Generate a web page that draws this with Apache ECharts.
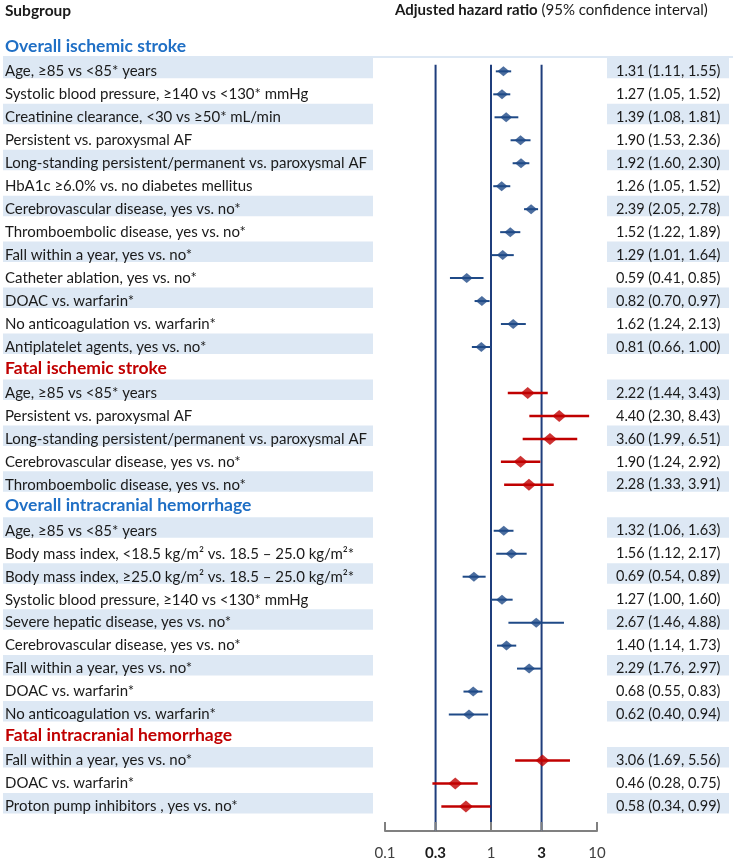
<!DOCTYPE html>
<html><head><meta charset="utf-8">
<script src="https://cdn.jsdelivr.net/npm/echarts@6/dist/echarts.min.js"></script>
<style>html,body{margin:0;padding:0;background:#fff}#c{width:733px;height:865px}</style>
</head><body><div id="c"></div>
<script>
const groupNames = ['Overall ischemic stroke','Fatal ischemic stroke','Overall intracranial hemorrhage','Fatal intracranial hemorrhage'];
const groupFatal = [false, true, false, true];
const groupSizes = [13, 5, 9, 3];
const subgroups = [
 'Age, ≥85 vs <85* years',
 'Systolic blood pressure, ≥140 vs <130* mmHg',
 'Creatinine clearance, <30 vs ≥50* mL/min',
 'Persistent vs. paroxysmal AF',
 'Long-standing persistent/permanent vs. paroxysmal AF',
 'HbA1c ≥6.0% vs. no diabetes mellitus',
 'Cerebrovascular disease, yes vs. no*',
 'Thromboembolic disease, yes vs. no*',
 'Fall within a year, yes vs. no*',
 'Catheter ablation, yes vs. no*',
 'DOAC vs. warfarin*',
 'No anticoagulation vs. warfarin*',
 'Antiplatelet agents, yes vs. no*',
 'Age, ≥85 vs <85* years',
 'Persistent vs. paroxysmal AF',
 'Long-standing persistent/permanent vs. paroxysmal AF',
 'Cerebrovascular disease, yes vs. no*',
 'Thromboembolic disease, yes vs. no*',
 'Age, ≥85 vs <85* years',
 'Body mass index, <18.5 kg/m² vs. 18.5 – 25.0 kg/m²*',
 'Body mass index, ≥25.0 kg/m² vs. 18.5 – 25.0 kg/m²*',
 'Systolic blood pressure, ≥140 vs <130* mmHg',
 'Severe hepatic disease, yes vs. no*',
 'Cerebrovascular disease, yes vs. no*',
 'Fall within a year, yes vs. no*',
 'DOAC vs. warfarin*',
 'No anticoagulation vs. warfarin*',
 'Fall within a year, yes vs. no*',
 'DOAC vs. warfarin*',
 'Proton pump inhibitors , yes vs. no*'
];
const hr    = [1.31,1.27,1.39,1.90,1.92,1.26,2.39,1.52,1.29,0.59,0.82,1.62,0.81, 2.22,4.40,3.60,1.90,2.28, 1.32,1.56,0.69,1.27,2.67,1.40,2.29,0.68,0.62, 3.06,0.46,0.58];
const lower = [1.11,1.05,1.08,1.53,1.60,1.05,2.05,1.22,1.01,0.41,0.70,1.24,0.66, 1.44,2.30,1.99,1.24,1.33, 1.06,1.12,0.54,1.00,1.46,1.14,1.76,0.55,0.40, 1.69,0.28,0.34];
const upper = [1.55,1.52,1.81,2.36,2.30,1.52,2.78,1.89,1.64,0.85,0.97,2.13,1.00, 3.43,8.43,6.51,2.92,3.91, 1.63,2.17,0.89,1.60,4.88,1.73,2.97,0.83,0.94, 5.56,0.75,0.99];
const tickValues = [0.1, 0.3, 1, 3, 10];
const tickLabels = ['0.1','0.3','1','3','10'];
const tickBold = [false, true, false, true, false];
const refLines = [0.3, 1, 3];

const BLUE_HDR = '#1f6fc5', RED = '#c00000', NAVY = '#1f3e7c', MARK = '#1f4a87', BAND = '#dde8f4';
const FONT = 'Lato, "Open Sans", sans-serif';
const Y_MIN = -0.8, Y_MAX = 34.07, LINE_TOP = 0.71;

const rows = [];
let k = 0;
groupNames.forEach((g, gi) => {
  rows.push({type: 'h', group: gi});
  for (let j = 0; j < groupSizes[gi]; j++) {
    rows.push({type: 'i', group: gi, idx: k, shaded: j % 2 === 0});
    k++;
  }
});
const rowData = rows.map((r, i) => [1, i, r.type === 'h' ? -1 : r.idx, r.group]);
const itemRows = rows.map((r, i) => ({r, i})).filter(o => o.r.type === 'i');

const chart = echarts.init(document.getElementById('c'), null, {renderer: 'canvas'});
chart.setOption({
  animation: false,
  grid: {left: 385, right: 136, top: 30, bottom: 34},
  xAxis: {type: 'log', logBase: 10, min: 0.1, max: 10, position: 'bottom',
    axisLine: {show: true, onZero: false, lineStyle: {color: '#808080', width: 2}},
    axisTick: {show: false}, axisLabel: {show: false}, splitLine: {show: false}},
  yAxis: {type: 'value', inverse: true, min: Y_MIN, max: Y_MAX, show: false},
  graphic: [
    {type: 'text', left: 5, top: 3, style: {text: 'Subgroup', fontSize: 15.5, fontWeight: 'bold', fontFamily: FONT, fill: '#1a1a1a'}},
    {type: 'text', left: 395, top: 3, style: {text: '{b|Adjusted hazard ratio}{n| (95% confidence interval)}',
      fontSize: 15, fontFamily: FONT, fill: '#1a1a1a',
      rich: {b: {fontWeight: 'bold', fontSize: 15, fontFamily: FONT, fill: '#1a1a1a'},
             n: {fontWeight: 'normal', fontSize: 15, fontFamily: FONT, fill: '#1a1a1a'}}}}
  ],
  series: [
    {
      type: 'custom', clip: false, z: 1,
      data: rowData,
      renderItem: function (params, api) {
        const row = api.value(1), idx = api.value(2), gi = api.value(3);
        const cy = api.coord([1, row])[1];
        const children = [];
        const r = rows[row];
        if (r.type === 'h') {
          children.push({type: 'text', style: {x: 5, y: cy - 2, text: groupNames[gi], font: 'bold 17.5px ' + FONT,
            fill: groupFatal[gi] ? RED : BLUE_HDR, verticalAlign: 'middle', align: 'left'}});
          if (row === 0) {
            const ly = api.coord([1, 0.37])[1];
            children.push({type: 'rect', shape: {x: 3, y: ly - 1, width: 730, height: 2}, style: {fill: BAND}});
          }
        } else {
          if (r.shaded) {
            children.push({type: 'rect', shape: {x: 3, y: cy - 13.5, width: 370, height: 20.5}, style: {fill: BAND}});
            children.push({type: 'rect', shape: {x: 607, y: cy - 13.5, width: 122, height: 20.5}, style: {fill: BAND}});
          }
          children.push({type: 'text', style: {x: 5, y: cy, text: subgroups[idx], font: '15px ' + FONT,
            fill: '#1a1a1a', verticalAlign: 'middle', align: 'left'}});
          const txt = hr[idx].toFixed(2) + ' (' + lower[idx].toFixed(2) + ', ' + upper[idx].toFixed(2) + ')';
          children.push({type: 'text', style: {x: 616, y: cy, text: txt, font: '14.5px ' + FONT,
            fill: '#1a1a1a', verticalAlign: 'middle', align: 'left'}});
        }
        return {type: 'group', children};
      }
    },
    {
      type: 'custom', clip: false, z: 2,
      data: refLines.map(v => [v, LINE_TOP]),
      renderItem: function (params, api) {
        const p1 = api.coord([api.value(0), LINE_TOP]);
        const p2 = api.coord([api.value(0), Y_MAX]);
        return {type: 'line', shape: {x1: p1[0], y1: p1[1], x2: p2[0], y2: p2[1]}, style: {stroke: NAVY, lineWidth: 2}};
      }
    },
    {
      type: 'custom', clip: false, z: 3,
      data: tickValues.map((v, i) => [v, Y_MAX, i]),
      renderItem: function (params, api) {
        const i = api.value(2);
        const p = api.coord([api.value(0), Y_MAX]);
        return {type: 'group', children: [
          {type: 'line', shape: {x1: p[0], y1: p[1], x2: p[0], y2: p[1] - 9}, style: {stroke: '#808080', lineWidth: 2}},
          {type: 'text', style: {x: p[0], y: p[1] + 22, text: tickLabels[i], font: (tickBold[i] ? 'bold ' : '') + '15px ' + FONT,
            fill: tickBold[i] ? '#1a1a1a' : '#404040', align: 'center', verticalAlign: 'middle'}}
        ]};
      }
    },
    {
      type: 'custom', clip: false, z: 4,
      data: itemRows.map(o => [lower[o.r.idx], o.i, upper[o.r.idx], o.r.group]),
      renderItem: function (params, api) {
        const row = api.value(1);
        const p1 = api.coord([api.value(0), row]);
        const p2 = api.coord([api.value(2), row]);
        const fatal = groupFatal[api.value(3)];
        return {type: 'line', shape: {x1: p1[0], y1: p1[1], x2: p2[0], y2: p2[1]},
          style: {stroke: fatal ? RED : MARK, lineWidth: fatal ? 2.5 : 2}};
      }
    },
    {
      type: 'scatter', z: 5, symbol: 'diamond',
      data: itemRows.map(o => ({value: [hr[o.r.idx], o.i],
        symbolSize: groupFatal[o.r.group] ? [14, 12] : [12, 10],
        itemStyle: {color: groupFatal[o.r.group] ? RED : MARK}}))
    }
  ]
});
</script></body></html>
